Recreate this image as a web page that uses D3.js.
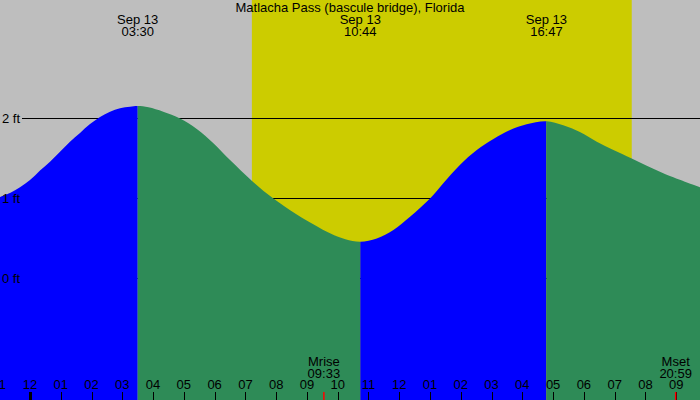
<!DOCTYPE html>
<html>
<head>
<meta charset="utf-8">
<script src="https://cdn.jsdelivr.net/npm/d3@7"></script>
<style>
  html, body { margin: 0; padding: 0; background: #fff; }
  svg { display: block; }
  text { font-family: "Liberation Sans", Arial, sans-serif; font-size: 13px; fill: #000; }
</style>
</head>
<body>
<svg id="chart" width="700" height="400"></svg>
<script>
// ---- Data ----
const title = "Matlacha Pass (bascule bridge), Florida";
const dateLabel = "Sep 13";

// tide curve samples: hours since midnight Sep 13, height in feet
const tideHours = [-0.975, -0.65, -0.325, 0.0, 0.325, 0.65, 0.975, 1.30, 1.625, 1.95,
                   2.275, 2.6, 2.925, 3.25, 3.5,
                   3.85, 4.33, 4.875, 5.42, 5.96, 6.5, 7.215, 7.91, 8.67, 9.75, 10.25, 10.733,
                   11.27, 11.81, 12.35, 13.0, 13.43, 13.97, 14.52, 15.06, 15.6, 16.14, 16.783,
                   17.33, 17.87, 18.42, 18.96, 19.555, 20.58, 21.78];
const tideFeet  = [1.02, 1.07, 1.14, 1.23, 1.35, 1.46, 1.585, 1.71, 1.82, 1.93,
                   2.02, 2.085, 2.128, 2.147, 2.156,
                   2.14, 2.085, 2.0, 1.87, 1.69, 1.48, 1.22, 1.0, 0.8, 0.565, 0.49, 0.46,
                   0.50, 0.606, 0.772, 1.0, 1.19, 1.42, 1.606, 1.744, 1.856, 1.928, 1.965,
                   1.915, 1.83, 1.71, 1.605, 1.50, 1.315, 1.14];

// tide extremes
const extremeHours = [3.5, 10.733, 16.783];
const extremeTimes = ["03:30", "10:44", "16:47"];
const extremeTypes = ["H", "L", "H"];

// daylight
const sunriseHour = 7.21;
const sunsetHour = 19.555;

// moon
const moonHours = [9.55, 20.983];
const moonNames = ["Mrise", "Mset"];
const moonTimes = ["09:33", "20:59"];

// axis ticks
const hourTicks = [-1,0,1,2,3,4,5,6,7,8,9,10,11,12,13,14,15,16,17,18,19,20,21];
const hourTickLabels = ["11","12","01","02","03","04","05","06","07","08","09","10",
                        "11","12","01","02","03","04","05","06","07","08","09"];
const feetTicks = [0, 1, 2];
const feetTickLabels = ["0 ft", "1 ft", "2 ft"];

// ---- Drawing ----
const W = 700, H = 400;
const svg = d3.select("#chart");

const x = d3.scaleLinear().domain([0, 21]).range([30, 676.2]);
const y = d3.scaleLinear().domain([0, 2]).range([278.5, 118.5]);

const xMin = x.invert(0), xMax = x.invert(W);

// background
svg.append("rect").attr("x", 0).attr("y", 0).attr("width", W).attr("height", H)
  .attr("fill", "#bebebe");

// daylight band
svg.append("rect")
  .attr("x", x(sunriseHour)).attr("y", 0)
  .attr("width", x(sunsetHour) - x(sunriseHour)).attr("height", H)
  .attr("fill", "#cccc00");

// horizontal ft lines (behind fill)
svg.append("g").selectAll("line").data(feetTicks).join("line")
  .attr("x1", 22).attr("x2", W)
  .attr("y1", d => y(d)).attr("y2", d => y(d))
  .attr("stroke", "#000").attr("stroke-width", 1);

// tide area
const pts = tideHours.map((t, i) => [t, tideFeet[i]]);
const area = d3.area()
  .x(d => x(d[0]))
  .y0(H)
  .y1(d => y(d[1]))
  .curve(d3.curveCatmullRom.alpha(0.5));

// rising / falling intervals from extremes
const bounds = [xMin, ...extremeHours, xMax];
const intervals = [];
for (let i = 0; i < bounds.length - 1; i++) {
  let rising;
  if (i < extremeTypes.length) rising = extremeTypes[i] === "H";
  else rising = extremeTypes[extremeTypes.length - 1] === "L";
  intervals.push({ a: bounds[i], b: bounds[i + 1], rising });
}

const defs = svg.append("defs");
intervals.forEach((iv, i) => {
  defs.append("clipPath").attr("id", "clip" + i)
    .append("rect")
    .attr("x", x(iv.a)).attr("y", 0)
    .attr("width", x(iv.b) - x(iv.a)).attr("height", H);
  svg.append("path")
    .datum(pts)
    .attr("d", area)
    .attr("clip-path", "url(#clip" + i + ")")
    .attr("fill", iv.rising ? "#0000ff" : "#2e8b57");
});

// title
svg.append("text").attr("x", W / 2).attr("y", 12)
  .attr("text-anchor", "middle").text(title);

// extreme labels
const ext = svg.append("g");
extremeHours.forEach((t, i) => {
  ext.append("text").attr("x", x(t)).attr("y", 24)
    .attr("text-anchor", "middle").text(dateLabel);
  ext.append("text").attr("x", x(t)).attr("y", 36)
    .attr("text-anchor", "middle").text(extremeTimes[i]);
});

// ft labels
svg.append("g").selectAll("text").data(feetTicks).join("text")
  .attr("x", 2).attr("y", d => y(d) + 4.5)
  .text((d, i) => feetTickLabels[i]);

// bottom hour ticks
const tickG = svg.append("g");
hourTicks.forEach((h, i) => {
  const xx = Math.round(x(h)) + 0.5;
  const mid = (h % 24 === 0);
  tickG.append("line")
    .attr("x1", xx).attr("x2", xx)
    .attr("y1", 392).attr("y2", H)
    .attr("stroke", "#000").attr("stroke-width", mid ? 3 : 1);
  tickG.append("text").attr("x", x(h)).attr("y", 389)
    .attr("text-anchor", "middle").text(hourTickLabels[i]);
});

// moon rise/set
moonHours.forEach((t, i) => {
  const xx = x(t);
  svg.append("line").attr("x1", xx).attr("x2", xx)
    .attr("y1", 392).attr("y2", H)
    .attr("stroke", "#ff0000").attr("stroke-width", 1.5);
  svg.append("text").attr("x", xx).attr("y", 366)
    .attr("text-anchor", "middle").text(moonNames[i]);
  svg.append("text").attr("x", xx).attr("y", 378)
    .attr("text-anchor", "middle").text(moonTimes[i]);
});
</script>
</body>
</html>
